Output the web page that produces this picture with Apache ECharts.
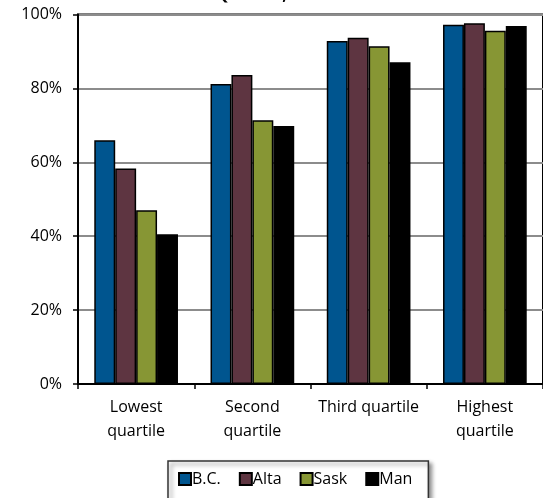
<!DOCTYPE html>
<html>
<head>
<meta charset="utf-8">
<script src="https://cdn.jsdelivr.net/npm/echarts@6/dist/echarts.min.js"></script>
<style>
  html, body { margin: 0; padding: 0; background: #fff; }
  #chart { width: 543px; height: 498px; }
</style>
</head>
<body>
<div id="chart"></div>
<script>
// Share by income quartile for four western provinces
const categories = ['Lowest\nquartile', 'Second\nquartile', 'Third quartile', 'Highest\nquartile'];
const provinces = ['B.C.', 'Alta', 'Sask', 'Man'];
const bcValues   = [66.0, 81.2, 92.8, 97.2];
const altaValues = [58.3, 83.6, 93.7, 97.6];
const saskValues = [47.0, 71.4, 91.4, 95.6];
const manValues  = [40.5, 69.8, 87.1, 96.9];
const yTicks = [0, 20, 40, 60, 80, 100];
const colors = ['#00558f', '#5e3541', '#879634', '#000000'];

const seriesValues = [bcValues, altaValues, saskValues, manValues];
const FONT = '"Open Sans", Lato, sans-serif';

const chart = echarts.init(document.getElementById('chart'), null, { renderer: 'canvas' });

chart.setOption({
  animation: false,
  backgroundColor: '#ffffff',
  color: colors,
  title: {
    text: 'Quartile, 2010',
    left: 211,
    top: -18,
    textStyle: { fontFamily: FONT, fontSize: 16, fontWeight: 'bold', color: '#000' }
  },
  grid: {
    left: 78, right: -2, top: 14.5, bottom: 114,
    show: true, borderColor: '#000', borderWidth: 2, backgroundColor: 'transparent'
  },
  legend: {
    data: provinces,
    left: 168, top: 461,
    padding: [10, 16, 22, 10],
    itemWidth: 12, itemHeight: 12, itemGap: 18,
    backgroundColor: '#fff',
    borderColor: '#333', borderWidth: 1.5,
    shadowColor: 'rgba(0,0,0,0.45)', shadowBlur: 4, shadowOffsetX: 3, shadowOffsetY: 3,
    textStyle: { fontFamily: FONT, fontSize: 16, color: '#000', padding: [0, 0, 0, -4] },
    icon: 'rect'
  },
  xAxis: {
    type: 'category',
    data: categories,
    axisLine: { lineStyle: { color: '#000', width: 2 } },
    axisTick: { show: true, length: 5, lineStyle: { color: '#000', width: 1.5 } },
    axisLabel: { interval: 0, fontFamily: FONT, fontSize: 16, color: '#000', lineHeight: 24, margin: 11 }
  },
  yAxis: {
    type: 'value',
    min: yTicks[0], max: yTicks[yTicks.length - 1], interval: 20,
    axisLine: { show: true, lineStyle: { color: '#000', width: 2 } },
    axisTick: { show: true, length: 5, lineStyle: { color: '#000', width: 1.5 } },
    splitLine: { lineStyle: { color: '#8c8c8c', width: 2 } },
    axisLabel: {
      fontFamily: FONT, fontSize: 16, color: '#000', margin: 16,
      formatter: v => v + '%'
    }
  },
  series: provinces.map((name, i) => ({
    name: name,
    type: 'bar',
    data: seriesValues[i],
    barGap: '0%',
    barCategoryGap: '28%',
    itemStyle: { color: colors[i], borderColor: '#000', borderWidth: 1.5 }
  }))
});
</script>
</body>
</html>
